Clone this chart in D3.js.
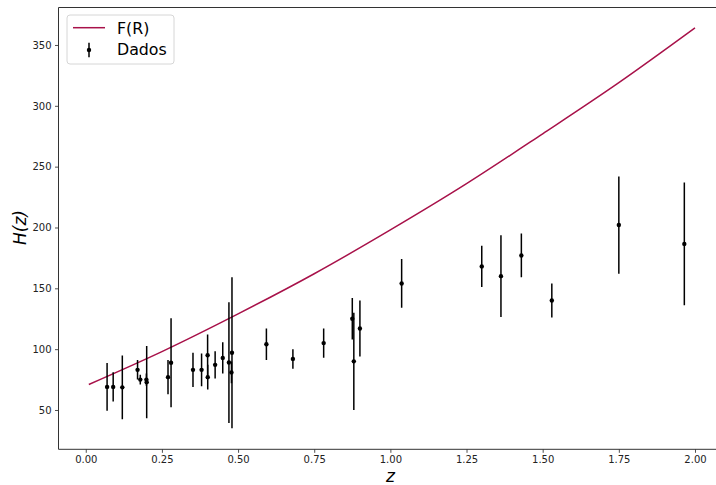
<!DOCTYPE html>
<html>
<head>
<meta charset="utf-8">
<script src="https://cdn.jsdelivr.net/npm/d3@7"></script>
<style>
    body { margin: 0; background: #fff; }
    text { font-family: "DejaVu Sans", sans-serif; }
</style>
</head>
<body>
<div id="chart"></div>
<script>
//Data

//Observed H(z) points (redshift, value, error)
var dataZ = [0.07, 0.09, 0.12, 0.17, 0.179, 0.199, 0.20, 0.27, 0.28, 0.352, 0.3802, 0.40, 0.4004, 0.4247,
    0.4497, 0.47, 0.4783, 0.48, 0.593, 0.68, 0.781, 0.875, 0.88, 0.90, 1.037, 1.30, 1.363, 1.43, 1.53, 1.75, 1.965];
var dataH = [69, 69, 68.6, 83, 75, 75, 72.9, 77, 88.8, 83, 83, 95, 77, 87.1,
    92.8, 89, 80.9, 97, 104, 92, 105, 125, 90, 117, 154, 168, 160, 177, 140, 202, 186.5];
var dataErr = [19.6, 12, 26.2, 8, 4, 5, 29.6, 14, 36.6, 14, 13.5, 17, 10.2, 11.2,
    12.9, 49.6, 9, 62, 13, 8, 12, 17, 40, 23, 20, 17, 33.6, 18, 14, 40, 50.4];

//Model curve F(R), read at a few redshifts
var curveZ = [0.01, 0.25, 0.50, 0.75, 1.00, 1.25, 1.50, 1.75, 2.00];
var curveH = [71, 98, 129, 162, 198, 236, 277, 319, 364];

//Ticks and labels
var xTicks = [0, 0.25, 0.5, 0.75, 1.0, 1.25, 1.5, 1.75, 2.0];
var yTicks = [50, 100, 150, 200, 250, 300, 350];
var legendLabels = ["F(R)", "Dados"];

//Configuration
var configuration = {
    width: 716,
    height: 485,
    left: 58.5,
    top: 7.5,
    right: 725.3,
    bottom: 449.3,
    lineColor: "#a8124a"
};

var cfg = configuration;

var svg = d3.select("#chart")
    .append("svg")
        .attr("width", cfg.width)
        .attr("height", cfg.height);

//Scales
var x = d3.scaleLinear()
    .domain([-0.0895, 2.0995])
    .range([cfg.left, cfg.right]);

var y = d3.scaleLinear()
    .domain([17.7, 380.8])
    .range([cfg.bottom, cfg.top]);

//Clip to the axes area
svg.append("clipPath")
    .attr("id", "plot-clip")
    .append("rect")
        .attr("x", cfg.left)
        .attr("y", cfg.top)
        .attr("width", cfg.right - cfg.left)
        .attr("height", cfg.bottom - cfg.top);

var plot = svg.append("g").attr("clip-path", "url(#plot-clip)");

//Model line
var line = d3.line()
    .x(function(d) { return x(d[0]); })
    .y(function(d) { return y(d[1]); })
    .curve(d3.curveMonotoneX);

plot.append("path")
    .datum(d3.zip(curveZ, curveH))
    .attr("d", line)
    .attr("fill", "none")
    .attr("stroke", cfg.lineColor)
    .attr("stroke-width", 1.5);

//Error bars and points
var points = d3.range(dataZ.length).map(function(i) {
    return { z: dataZ[i], h: dataH[i], e: dataErr[i] };
});

plot.selectAll("line.err")
    .data(points)
    .enter()
    .append("line")
        .attr("class", "err")
        .attr("x1", function(d) { return x(d.z); })
        .attr("x2", function(d) { return x(d.z); })
        .attr("y1", function(d) { return y(d.h - d.e); })
        .attr("y2", function(d) { return y(d.h + d.e); })
        .attr("stroke", "#000")
        .attr("stroke-width", 1.5);

plot.selectAll("circle.pt")
    .data(points)
    .enter()
    .append("circle")
        .attr("class", "pt")
        .attr("cx", function(d) { return x(d.z); })
        .attr("cy", function(d) { return y(d.h); })
        .attr("r", 2.2)
        .attr("fill", "#000");

//Axes
var xAxis = svg.append("g")
    .attr("transform", "translate(0," + cfg.bottom + ")")
    .call(d3.axisBottom(x).tickValues(xTicks).tickFormat(d3.format(".2f")).tickSizeOuter(0).tickSize(3.5).tickPadding(3.5));

var yAxis = svg.append("g")
    .attr("transform", "translate(" + cfg.left + ",0)")
    .call(d3.axisLeft(y).tickValues(yTicks).tickSizeOuter(0).tickSize(3.5).tickPadding(3.5));

[xAxis, yAxis].forEach(function(ax) {
    ax.select(".domain").remove();
    ax.selectAll("line").attr("stroke", "#222").attr("stroke-width", 0.8);
    ax.selectAll("text")
        .attr("fill", "#222")
        .style("font-size", "10px")
        .style("font-family", "DejaVu Sans, sans-serif");
});

//Spines (left, top, bottom; right spine is outside the picture)
svg.append("path")
    .attr("d", "M" + cfg.right + "," + cfg.top + "H" + cfg.left + "V" + cfg.bottom + "H" + cfg.right)
    .attr("fill", "none")
    .attr("stroke", "#333")
    .attr("stroke-width", 1);

//Axis labels
svg.append("text")
    .attr("x", x(1.0))
    .attr("y", 482)
    .attr("text-anchor", "middle")
    .style("font-size", "17px")
    .style("font-style", "italic")
    .text("z");

svg.append("text")
    .attr("transform", "translate(26," + y(200) + ") rotate(-90)")
    .attr("text-anchor", "middle")
    .style("font-size", "17px")
    .style("font-style", "italic")
    .text("H(z)");

//Legend
var legend = svg.append("g");

legend.append("rect")
    .attr("x", 67)
    .attr("y", 15)
    .attr("width", 107)
    .attr("height", 49)
    .attr("rx", 3)
    .attr("fill", "#fff")
    .attr("fill-opacity", 0.8)
    .attr("stroke", "#d6d6d6")
    .attr("stroke-width", 1);

legend.append("line")
    .attr("x1", 73)
    .attr("x2", 105)
    .attr("y1", 27.7)
    .attr("y2", 27.7)
    .attr("stroke", cfg.lineColor)
    .attr("stroke-width", 1.5);

legend.append("line")
    .attr("x1", 89)
    .attr("x2", 89)
    .attr("y1", 42.7)
    .attr("y2", 57.3)
    .attr("stroke", "#000")
    .attr("stroke-width", 1.5);

legend.append("circle")
    .attr("cx", 89)
    .attr("cy", 50)
    .attr("r", 2.2)
    .attr("fill", "#000");

legend.selectAll("text.lab")
    .data(legendLabels)
    .enter()
    .append("text")
        .attr("class", "lab")
        .attr("x", 117)
        .attr("y", function(d, i) { return 33.8 + i * 21.6; })
        .style("font-size", "15.8px")
        .text(function(d) { return d; });
</script>
</body>
</html>
